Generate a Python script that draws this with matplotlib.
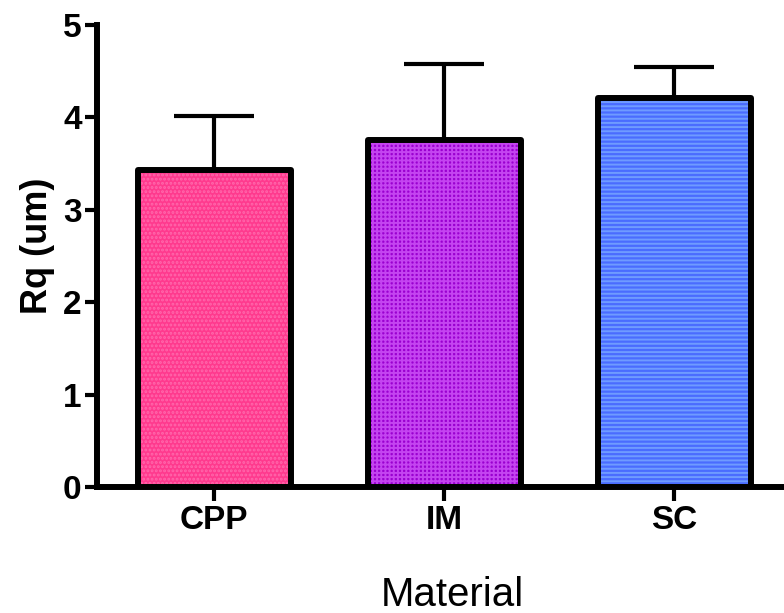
import matplotlib
matplotlib.use("Agg")
import matplotlib.pyplot as plt
import numpy as np

categories = ["CPP", "IM", "SC"]
means = [3.43, 3.76, 4.21]
sd_upper = [0.58, 0.82, 0.34]
face_colors = ["#FF3A8E", "#9A00D0", "#4A6CFF"]
hatch_colors = ["#FF68AC", "#C444F0", "#6F9BFF"]
hatches = ["....", "++++", "----"]
yticks = [0, 1, 2, 3, 4, 5]

plt.rcParams['font.family'] = ['Liberation Sans', 'DejaVu Sans']
plt.rcParams['hatch.linewidth'] = 1.4

fig = plt.figure(figsize=(7.84, 6.13), dpi=100)
ax = fig.add_axes([97/784, 126/613, 1 - 97/784, (487-25)/613])

x = np.arange(len(categories))
width = 0.665

ax.errorbar(x, means, yerr=[np.zeros(len(x)), sd_upper], fmt='none',
            ecolor='black', elinewidth=3, capsize=29, capthick=3, zorder=1)
ax.bar(x, means, width=width, color=face_colors, linewidth=0, zorder=2)
for xi, m, hc, h in zip(x, means, hatch_colors, hatches):
    ax.bar([xi], [m], width=width, color='none', edgecolor=hc, hatch=h,
           linewidth=0, zorder=3)
ax.bar(x, means, width=width, color='none', edgecolor='black', linewidth=4.3,
       joinstyle='round', zorder=4)

ax.set_xlim(-0.509, 2.478)
ax.set_ylim(0, 5)
ax.set_yticks(yticks)
ax.set_xticks(x)
ax.set_xticklabels(categories)

for s in ['top', 'right']:
    ax.spines[s].set_visible(False)
for s in ['left', 'bottom']:
    ax.spines[s].set_linewidth(4.3)
    ax.spines[s].set_capstyle('projecting')

ax.tick_params(axis='y', length=9, width=3, pad=2, labelsize=24)
ax.tick_params(axis='x', length=10, width=3, pad=3, labelsize=24)
for lab in ax.get_xticklabels() + ax.get_yticklabels():
    lab.set_fontweight('bold')

ax.set_ylabel("Rq (um)", fontsize=26, fontweight='bold')
ax.yaxis.set_label_coords(-0.061, (487-246)/462)
ax.set_xlabel("Material", fontsize=29)
ax.xaxis.set_label_coords((452-97)/687, -0.193)

fig.savefig("out.png", dpi=100)
